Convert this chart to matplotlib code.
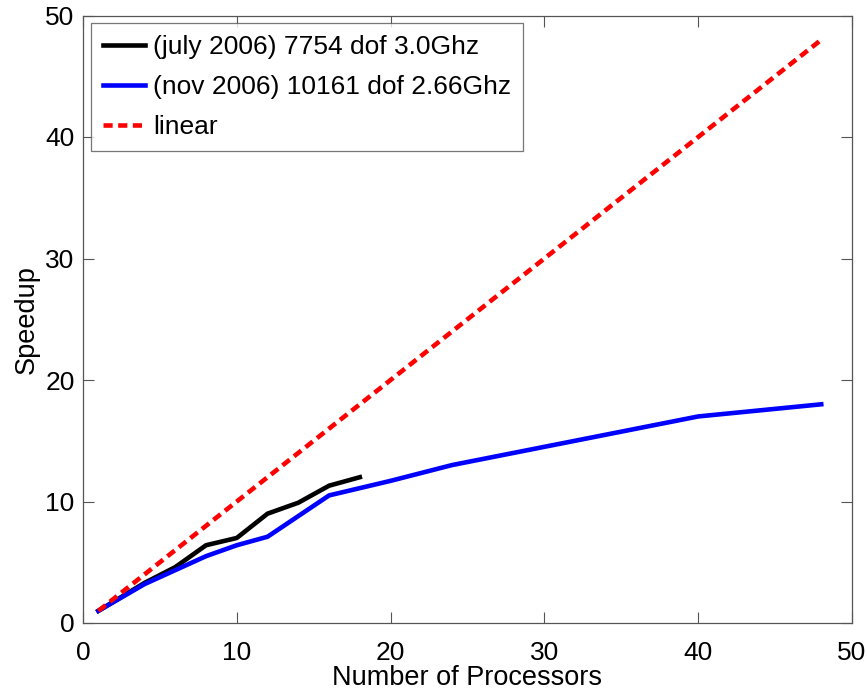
import matplotlib
matplotlib.use("Agg")
import matplotlib.pyplot as plt

july_procs = [1, 4, 6, 8, 10, 12, 14, 16, 18]
july_speedup = [1.0, 3.3, 4.6, 6.4, 7.0, 9.0, 9.9, 11.3, 12.0]

nov_procs = [1, 4, 8, 10, 12, 16, 20, 24, 32, 40, 48]
nov_speedup = [1.0, 3.2, 5.5, 6.4, 7.1, 10.5, 11.7, 13.0, 15.0, 17.0, 18.0]

linear_procs = [1, 48]
linear_speedup = [1, 48]

labels = ["(july 2006) 7754 dof 3.0Ghz", "(nov 2006) 10161 dof 2.66Ghz", "linear"]
xticks = [0, 10, 20, 30, 40, 50]
yticks = [0, 10, 20, 30, 40, 50]

plt.rcParams['font.family'] = ['Liberation Sans', 'DejaVu Sans']

fig = plt.figure(figsize=(8.67, 6.95), dpi=100)
ax = fig.add_axes([83/867, 1 - 623/695, (852 - 83)/867, (623 - 15.5)/695])

ax.plot(july_procs, july_speedup, color='black', lw=3.3, label=labels[0])
ax.plot(nov_procs, nov_speedup, color='#0000ff', lw=3.3, label=labels[1])
ax.plot(linear_procs, linear_speedup, color='#ff0000', lw=3.3, ls=(0, (2.0, 1.2)), label=labels[2])

ax.set_xlim(0, 50)
ax.set_ylim(0, 50)
ax.set_xticks(xticks)
ax.set_yticks(yticks)
ax.tick_params(direction='in', length=8, width=0.8, labelsize=19, top=True, right=True,
               color='#555555')
ax.tick_params(axis='x', pad=13)
ax.tick_params(axis='y', pad=6)
for s in ax.spines.values():
    s.set_color('#555555')
    s.set_linewidth(0.9)

ax.set_xlabel("Number of Processors", fontsize=19.5, labelpad=0)
ax.set_ylabel("Speedup", fontsize=19.5, labelpad=4)

leg = ax.legend(loc='upper left', fontsize=19, frameon=True, fancybox=False,
                edgecolor='#555555', borderaxespad=0.3, handlelength=1.6,
                handletextpad=0.3, labelspacing=0.6, borderpad=0.45)
leg.get_frame().set_linewidth(0.9)

fig.savefig("out.png", dpi=100)
